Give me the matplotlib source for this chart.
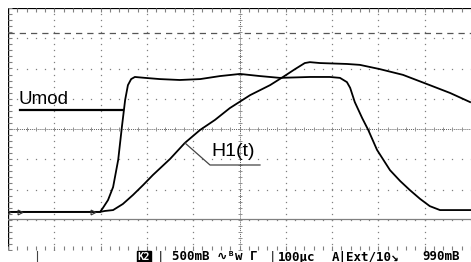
import matplotlib
matplotlib.use("Agg")
import matplotlib.pyplot as plt
import numpy as np

# traces, in screen divisions (x: 0..10, y: -4..4)
umod_x = [0, 1.12, 1.99, 2.05, 2.16, 2.27, 2.38, 2.46, 2.53, 2.59, 2.66, 2.74, 2.96, 3.28,
          3.71, 4.15, 4.58, 5.01, 5.44, 5.87, 6.52, 6.95, 7.17, 7.32, 7.39, 7.49, 7.65, 7.78,
          7.97, 8.25, 8.47, 8.68, 8.90, 9.11, 9.33, 9.65, 10.0]
umod_y = [-2.74, -2.74, -2.74, -2.61, -2.35, -1.92, -1.02, 0.07, 0.96, 1.45, 1.65, 1.72, 1.69,
          1.65, 1.62, 1.65, 1.75, 1.82, 1.75, 1.69, 1.72, 1.72, 1.69, 1.55, 1.36, 0.89, 0.36,
          -0.03, -0.69, -1.36, -1.72, -2.02, -2.31, -2.55, -2.68, -2.68, -2.68]

h1_x = [0, 1.99, 2.09, 2.27, 2.48, 2.70, 2.92, 3.13, 3.50, 3.82, 4.15, 4.47, 4.79, 5.23, 5.66,
        5.94, 6.20, 6.41, 6.52, 6.74, 7.32, 7.60, 8.03, 8.53, 9.11, 9.55, 9.98]
h1_y = [-2.74, -2.74, -2.71, -2.68, -2.48, -2.18, -1.85, -1.52, -0.99, -0.46, -0.03, 0.30, 0.69,
        1.12, 1.45, 1.72, 1.98, 2.18, 2.21, 2.18, 2.15, 2.12, 1.98, 1.79, 1.45, 1.19, 0.89]

ground_level = -2.97
trig_level = 3.17
status = ["500mB ∿ᴮw Γ", "100µc", "A|Ext/10↘", "990mB"]
status_x = [172, 278, 332, 422]

W, H = 471, 262
fig = plt.figure(figsize=(W / 100, H / 100), dpi=100)
ax = fig.add_axes([8 / W, (H - 250) / H, 463 / W, 242 / H])
ax.set_xlim(0, 10)
ax.set_ylim(-4, 4)
ax.axis("off")

grey = "#808080"
# dotted graticule
for gx in range(1, 10):
    if gx == 5:
        continue
    yy = np.arange(-4, 4.01, 0.2)
    ax.plot(np.full_like(yy, gx), yy, ls="none", marker="s", ms=0.9, color=grey, mew=0)
for gy in range(-3, 4):
    if gy == 0:
        continue
    xx = np.arange(0, 10.01, 0.2)
    ax.plot(xx, np.full_like(xx, gy), ls="none", marker="s", ms=0.9, color=grey, mew=0)

# centre crosshair with small ticks
tk = np.arange(0, 10.01, 0.2)
ax.plot([0, 10], [0, 0], color="#606060", lw=0.7, ls=(0, (1, 1)))
ax.plot(tk, np.zeros_like(tk), ls="none", marker="|", ms=3, color="#909090", mew=0.7)
tv = np.arange(-4, 4.01, 0.2)
ax.plot([5, 5], [-4, 4], color="#606060", lw=0.7, ls=(0, (1, 1)))
ax.plot(np.full_like(tv, 5), tv, ls="none", marker="_", ms=3.5, color="#909090", mew=0.7)

# borders
ax.plot([0, 10], [4, 4], color="black", lw=1.6)
ax.plot(tk, np.full_like(tk, 3.93), ls="none", marker="|", ms=3, color=grey, mew=0.8)
ax.plot([-0.02, -0.02], [-4, 4], color="black", lw=2.4)
ax.plot(np.full_like(tv, 0.05), tv, ls="none", marker="_", ms=3, color=grey, mew=0.8)
ax.plot([0, 10], [-4, -4], color="#606060", lw=0.7, ls=(0, (1, 1)))
ax.plot(tk, np.full_like(tk, -3.95), ls="none", marker="|", ms=2.5, color=grey, mew=0.8)

# reference levels
ax.plot([0, 10], [trig_level, trig_level], color="#555555", lw=0.9, ls=(0, (5, 4)))
ax.plot([0, 10], [ground_level, ground_level], color=grey, lw=0.9)

# traces
ax.plot(umod_x, umod_y, color="black", lw=1.3)
ax.plot(h1_x, h1_y, color="black", lw=1.3)
ax.plot([0.0, 0.26, 1.83], [-2.74, -2.74, -2.74], ls="none", marker=">", ms=3.5,
        mfc="none", mec="#333333", mew=0.8)

# labels
fig.text(19 / W, 1 - 100 / H, "Umod", fontsize=13.5, family="Liberation Sans",
         va="center", ha="left")
fig.add_artist(plt.Line2D([20 / W, 123 / W], [1 - 110 / H] * 2, color="black", lw=1.6))
fig.text(211 / W, 1 - 151 / H, "H1(t)", fontsize=14, family="Liberation Sans",
         va="center", ha="left")
fig.add_artist(plt.Line2D([185 / W, 210 / W, 260 / W],
                          [1 - 143 / H, 1 - 165 / H, 1 - 165 / H], color="#444444", lw=0.9))

# status bar
ty = 1 - 257 / H
fig.add_artist(plt.Line2D([37 / W, 37 / W], [0, 1 - 251 / H], color="#444444", lw=0.8))
fig.text(144 / W, ty, "K2", fontsize=7.5, family="DejaVu Sans Mono", weight="bold",
         color="white", va="center", ha="center",
         bbox=dict(boxstyle="square,pad=0.08", fc="black", ec="black"))
fig.text(160 / W, ty, "|", fontsize=9, family="DejaVu Sans Mono", va="center", ha="center")
fig.text(272 / W, ty, "|", fontsize=9, family="DejaVu Sans Mono", va="center", ha="center")
for s, sx in zip(status, status_x):
    fig.text(sx / W, ty, s, fontsize=9, family=["DejaVu Sans Mono", "DejaVu Sans"],
             weight="bold", va="center", ha="left")

fig.savefig("out.png", dpi=100)
